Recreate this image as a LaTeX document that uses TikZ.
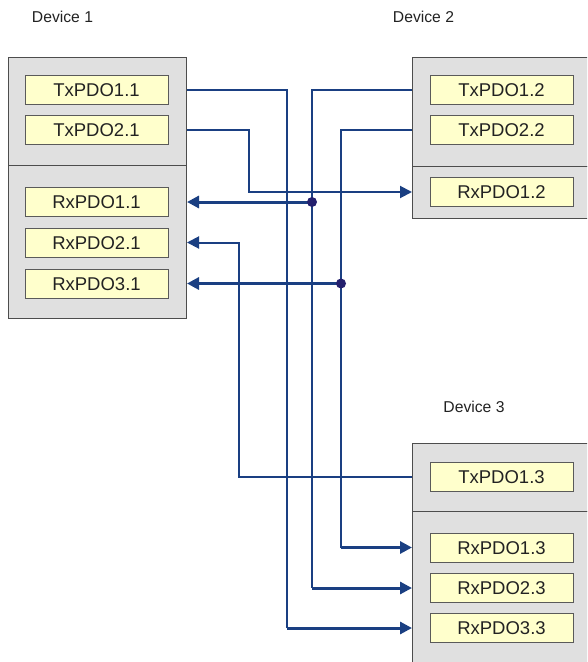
\documentclass[tikz,border=0pt]{standalone}
\usepackage{fontspec}
\setmainfont{Liberation Sans}
\usetikzlibrary{arrows.meta}

\definecolor{wireblue}{HTML}{1A3F82}
\definecolor{dotblue}{HTML}{24206E}
\definecolor{devfill}{HTML}{E0E0E0}
\definecolor{devline}{HTML}{4D4D4D}
\definecolor{pdofill}{HTML}{FFFFCC}
\definecolor{pdoline}{HTML}{5A5A5A}
\definecolor{txtgray}{HTML}{222222}

\tikzset{
  devpart/.style={draw=devline, fill=devfill, line width=1pt, inner sep=0pt, anchor=north west},
  pdo/.style={draw=pdoline, fill=pdofill, line width=1pt, minimum width=143pt, minimum height=29pt,
              inner sep=0pt, font=\fontsize{18.5}{20}\selectfont, text=txtgray,
              text height=13.3pt, text depth=0pt},
  devlabel/.style={font=\fontsize{15.7}{17}\selectfont, text=txtgray, inner sep=0pt},
  wire/.style={draw=wireblue, line width=2pt},
  feed/.style={draw=wireblue, line width=3pt, -{Triangle[length=12pt,width=12pt]}},
  thinfeed/.style={draw=wireblue, line width=2pt, -{Triangle[length=12pt,width=12pt]}},
  junction/.style={circle, fill=dotblue, minimum size=10pt, inner sep=0pt}
}

\begin{document}
\begin{tikzpicture}[x=1pt, y=-1pt]
\useasboundingbox (0,0) rectangle (587,662);
\clip (0,0) rectangle (587,662);

% device titles
\node[devlabel] (lab1) at (62.5,17) {Device 1};
\node[devlabel] (lab2) at (423.5,17) {Device 2};
\node[devlabel] (lab3) at (474,407) {Device 3};

% device 1 frame: transmit and receive halves
\node[devpart, minimum width=178pt, minimum height=108pt] (d1tx) at (8,57) {};
\node[devpart, minimum width=178pt, minimum height=153pt] (d1rx) at (8,165) {};
% device 2 frame
\node[devpart, minimum width=190pt, minimum height=109pt] (d2tx) at (412,57) {};
\node[devpart, minimum width=190pt, minimum height=52pt] (d2rx) at (412,166) {};
% device 3 frame
\node[devpart, minimum width=190pt, minimum height=68pt] (d3tx) at (412,443) {};
\node[devpart, minimum width=190pt, minimum height=200pt] (d3rx) at (412,511) {};

% process data objects
\node[pdo] (tx11) at (96.5,90)  {TxPDO1.1};
\node[pdo] (tx21) at (96.5,130) {TxPDO2.1};
\node[pdo] (rx11) at (96.5,202) {RxPDO1.1};
\node[pdo] (rx21) at (96.5,242.5) {RxPDO2.1};
\node[pdo] (rx31) at (96.5,283.5) {RxPDO3.1};

\node[pdo] (tx12) at (501.5,90)  {TxPDO1.2};
\node[pdo] (tx22) at (501.5,130) {TxPDO2.2};
\node[pdo] (rx12) at (501.5,192) {RxPDO1.2};

\node[pdo] (tx13) at (501.5,476.5) {TxPDO1.3};
\node[pdo] (rx13) at (501.5,547.5) {RxPDO1.3};
\node[pdo] (rx23) at (501.5,588) {RxPDO2.3};
\node[pdo] (rx33) at (501.5,628) {RxPDO3.3};

% TxPDO1.1 -> RxPDO3.3
\draw[wire] (d1tx.east |- tx11) -- ++(100,0) coordinate (ca) -- (ca |- rx33);
\draw[feed] (ca |- rx33) -- (d3rx.west |- rx33);

% TxPDO2.1 -> RxPDO1.2
\draw[thinfeed] (d1tx.east |- tx21) -- ++(62,0) |- (d2rx.west |- rx12);

% TxPDO1.2 -> RxPDO1.1 and RxPDO2.3
\draw[wire] (d2tx.west |- tx12) -- ++(-100,0) coordinate (cc) -- (cc |- rx23);
\draw[feed] (cc |- rx23) -- (d3rx.west |- rx23);
\coordinate (j1) at (cc |- rx11);
\draw[feed] (j1) -- (d1rx.east |- rx11);
\node[junction] (dot1) at (j1) {};

% TxPDO2.2 -> RxPDO3.1 and RxPDO1.3
\draw[wire] (d2tx.west |- tx22) -- ++(-71,0) coordinate (cd) -- (cd |- rx13);
\draw[feed] (cd |- rx13) -- (d3rx.west |- rx13);
\coordinate (j2) at (cd |- rx31);
\draw[feed] (j2) -- (d1rx.east |- rx31);
\node[junction] (dot2) at (j2) {};

% TxPDO1.3 -> RxPDO2.1
\draw[thinfeed] (d3tx.west |- tx13) -- ++(-173,0) |- (d1rx.east |- rx21);

\end{tikzpicture}
\end{document}
